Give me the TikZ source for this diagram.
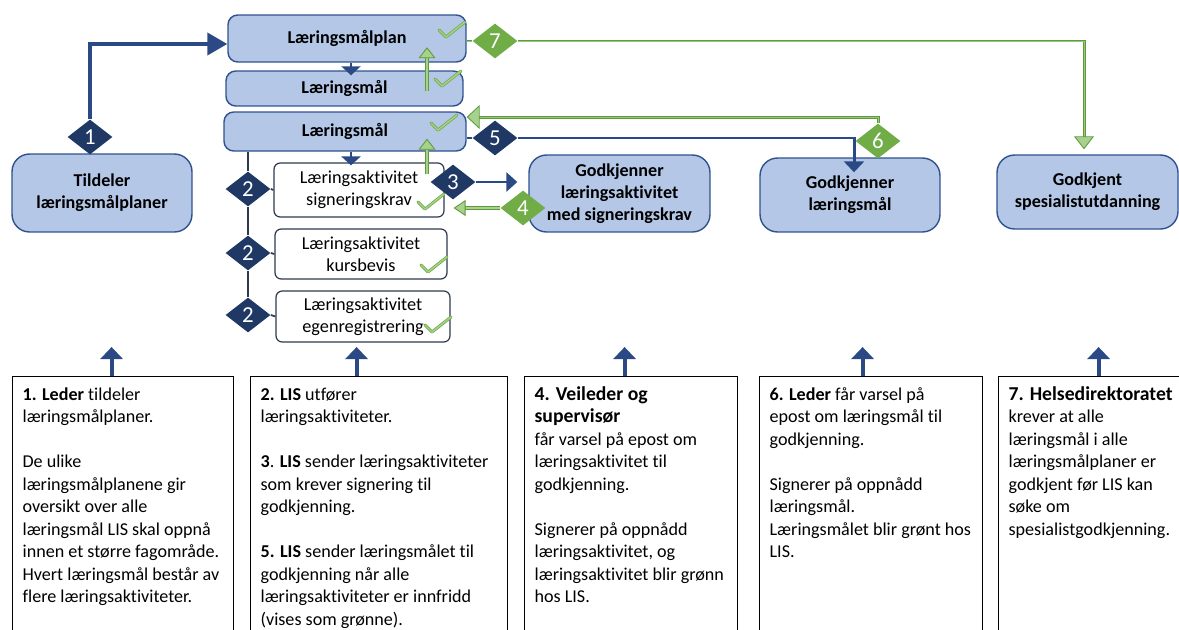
\documentclass[tikz,border=0pt]{standalone}
\usepackage{fontspec}
\setmainfont{Carlito}[Ligatures=NoCommon]
\usepackage{tikz}
\usetikzlibrary{arrows.meta, positioning, shapes.geometric, calc}
\definecolor{lnavy}{HTML}{203864}
\definecolor{lnavyline}{HTML}{2B4A85}
\definecolor{lblue}{HTML}{B4C7E7}
\definecolor{lblueborder}{HTML}{2F528F}
\definecolor{lslate}{HTML}{2E3A4F}
\definecolor{lgreen}{HTML}{70AD47}
\definecolor{lgreendark}{HTML}{5E9B3B}
\definecolor{llightgreen}{HTML}{A9D18E}
\newcommand\boxhead[1]{{\fontsize{11.2}{13}\selectfont\bfseries #1}}
\tikzset{
  bluebox/.style={draw=lblueborder, fill=lblue, line width=0.8pt, rounded corners=5.5pt,
                  font=\fontsize{10.3}{12.4}\selectfont\bfseries, align=center, inner sep=0pt},
  aktbox/.style={draw=lslate, fill=white, line width=0.7pt, rounded corners=3.5pt,
                 font=\fontsize{10.4}{12.4}\selectfont, align=center, inner sep=0pt},
  navydia/.style={diamond, fill=lnavy, text=white, minimum width=0.9cm, minimum height=0.7cm,
                  inner sep=0pt, font=\fontsize{13}{15}\selectfont},
  greendia/.style={navydia, fill=lgreen},
  textbox/.style={draw=black, line width=0.7pt, fill=white, anchor=north west,
                  inner xsep=0.2cm, inner ysep=0.16cm, font=\fontsize{10.3}{12.8}\selectfont},
  navyline/.style={lnavyline, line width=1.7pt},
  navyarr/.style={navyline, -{Triangle[width=0.38cm, length=0.22cm]}},
  greenline/.style={draw=lgreendark, double=lgreen!70!white, line width=0.6pt, double distance=0.5pt},
  greenarr/.style={draw=lgreendark, double=llightgreen, line width=0.55pt, double distance=1.5pt,
                   -{Triangle[width=0.34cm, length=0.22cm, fill=llightgreen, color=lgreendark, line width=0.5pt]}},
  chk/.style={draw=lgreen, double=llightgreen, line width=0.45pt, double distance=0.8pt,
              line join=round, line cap=round},
}
\newcommand\chkmark[1]{\draw[chk] (#1) ++(-7,-7) -- (#1) -- ++(19,-15);}

\begin{document}
\begin{tikzpicture}[x=0.02cm, y=-0.02cm]
  \clip (0,0) rectangle (1179,629);

  % Plan and goals
  \node[bluebox, minimum width=4.76cm, minimum height=0.94cm] (plan) at (347,38.5) {Læringsmålplan};
  \node[bluebox, minimum width=4.74cm, minimum height=0.70cm] (maal1) at (344.5,88.5) {Læringsmål};
  \node[bluebox, minimum width=4.84cm, minimum height=0.78cm] (maal2) at (345,131.5) {Læringsmål};

  % Actors
  \node[bluebox, rounded corners=10pt, minimum width=3.60cm, minimum height=1.56cm] (tildel) at (102,193) {Tildeler\\læringsmålplaner};
  \node[bluebox, rounded corners=10pt, minimum width=3.62cm, minimum height=1.54cm] (godkja) at (619.5,193.5) {Godkjenner\\læringsaktivitet\\med signeringskrav};
  \node[bluebox, rounded corners=10pt, minimum width=3.60cm, minimum height=1.48cm] (godkjm) at (850,195) {Godkjenner\\læringsmål};
  \node[bluebox, rounded corners=10pt, minimum width=3.62cm, minimum height=1.48cm] (godkjs) at (1087.5,192) {Godkjent\\spesialistutdanning};

  % Activities
  \node[aktbox, minimum width=3.40cm, minimum height=1.08cm] (akt1) at (359,190) {Læringsaktivitet\\signeringskrav};
  \node[aktbox, minimum width=3.44cm, minimum height=1.00cm] (akt2) at (361,254) {Læringsaktivitet\\kursbevis};
  \node[aktbox, minimum width=3.48cm, minimum height=1.02cm] (akt3) at (363,316.5) {Læringsaktivitet\\egenregistrering};

  % Steps
  \node[navydia] (d1) at (90,137) {1};
  \node[navydia] (d2a) at (248,189) {2};
  \node[navydia] (d2b) at (248,253) {2};
  \node[navydia] (d2c) at (248,315) {2};
  \node[navydia] (d3) at (453,182) {3};
  \node[greendia] (d4) at (523,208) {4};
  \node[navydia] (d5) at (495,138) {5};
  \node[greendia] (d6) at (878,141) {6};
  \node[greendia] (d7) at (495,41) {7};

  \coordinate (colx) at (351,0);
  \coordinate (gx) at (427,0);

  % Navy connectors
  \draw[navyline, line width=2.3pt, -{Triangle[width=0.44cm, length=0.40cm]}] (d1.north) |- ([yshift=-0.11cm]plan.west);
  \draw[navyarr, -{Triangle[width=0.38cm, length=0.18cm]}] (plan.south -| colx) -- ([yshift=-0.1cm]maal1.north -| colx);
  \draw[navyarr, -{Triangle[width=0.38cm, length=0.18cm]}] (maal2.south -| colx) -- ([yshift=-0.06cm]akt1.north -| colx);
  \draw[lslate, line width=1pt] (maal2.south -| d2a) -- (d2a.north);
  \draw[lslate, line width=1pt] (d2a.south) -- (d2b.north);
  \draw[lslate, line width=1pt] (d2b.south) -- (d2c.north);
  \draw[lslate, line width=1pt] (d2a.east) -- (akt1.west);
  \draw[lslate, line width=1pt] (d2b.east) -- (akt2.west);
  \draw[lslate, line width=1pt] (d2c.east) -- (akt3.west);
  \draw[navyarr, shorten >=0.22cm] (d3.east) -- (d3 -| godkja.west);
  \draw[navyline] (maal2.east |- d5) -- (d5.west);
  \draw[navyarr, -{Triangle[width=0.40cm, length=0.22cm]}] (d5.east) -| ([xshift=0.08cm, yshift=-0.3cm]godkjm.north);

  % Green connectors
  \draw[greenarr] ([yshift=-0.05cm]maal1.center -| gx) -- ([yshift=0.31cm]plan.south -| gx);
  \draw[greenarr] ([yshift=-0.24cm]akt1.north -| gx) -- ([yshift=0.26cm]maal2.south -| gx);
  \draw[greenarr, -{Triangle[width=0.32cm, length=0.24cm, fill=llightgreen, color=lgreendark, line width=0.5pt]}, shorten >=0.18cm] (d4.west) -- (d4 -| akt1.east);
  \draw[greenline, -{Triangle[width=0.48cm, length=0.26cm, fill=llightgreen, color=lgreendark, line width=0.5pt]}] (d6.north) |- ([yshift=0.29cm]maal2.east);
  \draw[greenline] (plan.east |- d7) -- (d7.west);
  \draw[greenline, -{Triangle[width=0.40cm, length=0.26cm, fill=llightgreen, color=lgreendark, line width=0.5pt]}, shorten >=0.1cm] (d7.east) -| ([xshift=-0.07cm]godkjs.north);

  % Checks
  \chkmark{446,37}
  \chkmark{442,86}
  \chkmark{438,130}
  \chkmark{425,209}
  \chkmark{428,272}
  \chkmark{432,332}

  % Descriptions
  \node[textbox] (t1) at (12,376) {\begin{minipage}[t][5.4cm][t]{4.02cm}\begin{tabular}[t]{@{}l@{}}
    \textbf{1. Leder} tildeler\\
    læringsmålplaner.\\
    \\
    De ulike\\
    læringsmålplanene gir\\
    oversikt over alle\\
    læringsmål LIS skal oppnå\\
    innen et større fagområde.\\
    Hvert læringsmål består av\\
    flere læringsaktiviteter.
  \end{tabular}\end{minipage}};
  \node[textbox] (t2) at (250,376) {\begin{minipage}[t][5.4cm][t]{4.74cm}\begin{tabular}[t]{@{}l@{}}
    \textbf{2. LIS} utfører\\
    læringsaktiviteter.\\
    \\
    \textbf{3}. \textbf{LIS} sender læringsaktiviteter\\
    som krever signering til\\
    godkjenning.\\
    \\
    \textbf{5. LIS} sender læringsmålet til\\
    godkjenning når alle\\
    læringsaktiviteter er innfridd\\
    (vises som grønne).
  \end{tabular}\end{minipage}};
  \node[textbox] (t4) at (524,376) {\begin{minipage}[t][5.4cm][t]{3.86cm}\begin{tabular}[t]{@{}l@{}}
    \boxhead{4. Veileder og}\\
    \boxhead{supervisør}\\
    får varsel på epost om\\
    læringsaktivitet til\\
    godkjenning.\\
    \\
    Signerer på oppnådd\\
    læringsaktivitet, og\\
    læringsaktivitet blir grønn\\
    hos LIS.
  \end{tabular}\end{minipage}};
  \node[textbox] (t6) at (759,376) {\begin{minipage}[t][5.4cm][t]{4.06cm}\begin{tabular}[t]{@{}l@{}}
    \textbf{6. Leder} får varsel på\\
    epost om læringsmål til\\
    godkjenning.\\
    \\
    Signerer på oppnådd\\
    læringsmål.\\
    Læringsmålet blir grønt hos\\
    LIS.
  \end{tabular}\end{minipage}};
  \node[textbox] (t7) at (998,376) {\begin{minipage}[t][5.4cm][t]{4.0cm}\begin{tabular}[t]{@{}l@{}}
    \boxhead{7. Helsedirektoratet}\\
    krever at alle\\
    læringsmål i alle\\
    læringsmålplaner er\\
    godkjent før LIS kan\\
    søke om\\
    spesialistgodkjenning.
  \end{tabular}\end{minipage}};

  \draw[navyline, line width=2.3pt, -{Triangle[width=0.44cm, length=0.24cm]}] ([xshift=-0.23cm]t1.north) -- ([xshift=-0.23cm, yshift=0.58cm]t1.north);
  \draw[navyline, line width=2.3pt, -{Triangle[width=0.44cm, length=0.24cm]}] ([xshift=-0.45cm]t2.north) -- ([xshift=-0.45cm, yshift=0.58cm]t2.north);
  \draw[navyline, line width=2.3pt, -{Triangle[width=0.44cm, length=0.24cm]}] ([xshift=-0.13cm]t4.north) -- ([xshift=-0.13cm, yshift=0.58cm]t4.north);
  \draw[navyline, line width=2.3pt, -{Triangle[width=0.44cm, length=0.24cm]}] ([xshift=-0.17cm]t6.north) -- ([xshift=-0.17cm, yshift=0.58cm]t6.north);
  \draw[navyline, line width=2.3pt, -{Triangle[width=0.44cm, length=0.24cm]}] ([xshift=-0.20cm]t7.north) -- ([xshift=-0.20cm, yshift=0.58cm]t7.north);
\end{tikzpicture}
\end{document}
